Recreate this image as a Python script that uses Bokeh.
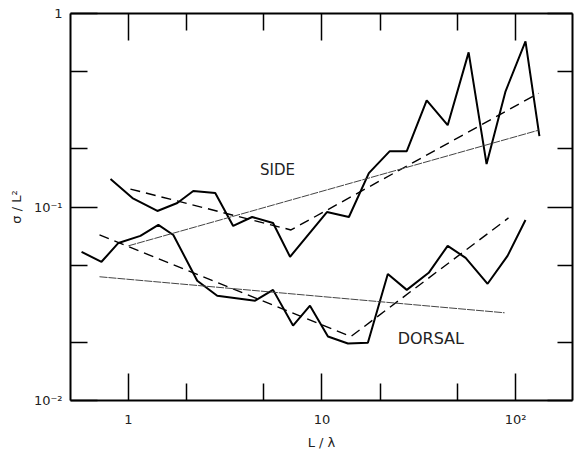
from bokeh.plotting import figure
from bokeh.models import FixedTicker, LogAxis, CustomJSTickFormatter, Label
from bokeh.embed import file_html
from bokeh.resources import INLINE

# ---- data (L/lambda, sigma/L^2) ----
side_x = [0.808, 1.049, 1.411, 1.789, 2.163, 2.809, 3.477, 4.357, 5.588, 6.841,
          10.61, 13.78, 17.47, 22.41, 27.43, 34.77, 44.62, 57.25, 70.88, 88.82, 112.6, 132.9]
side_y = [0.1394, 0.1112, 0.0954, 0.1049, 0.1209, 0.1181, 0.0798, 0.0888, 0.0827, 0.0553,
          0.0942, 0.0888, 0.1497, 0.1943, 0.1943, 0.356, 0.2647, 0.6295, 0.1666, 0.3963, 0.7174, 0.2323]

dorsal_x = [0.5726, 0.7258, 0.8882, 1.153, 1.428, 1.706, 2.268, 2.876, 4.515, 5.588, 7.088,
            8.672, 10.74, 13.62, 17.27, 21.89, 27.43, 35.60, 44.62, 55.24, 71.74, 90.95, 112.6]
dorsal_y = [0.0586, 0.0521, 0.0652, 0.0709, 0.0808, 0.0717, 0.0416, 0.0348, 0.0328, 0.0373, 0.0244,
            0.0309, 0.0214, 0.0197, 0.0199, 0.0451, 0.0373, 0.0457, 0.0630, 0.0546, 0.0401, 0.0559, 0.0857]

side_dash_x = [1.024, 6.92, 131.4]
side_dash_y = [0.1238, 0.0761, 0.3869]
dorsal_dash_x = [0.7088, 14.11, 92.0]
dorsal_dash_y = [0.0717, 0.0214, 0.0878]

side_fit_x = [1.0, 131.4]
side_fit_y = [0.0630, 0.2493]
dorsal_fit_x = [0.7088, 87.8]
dorsal_fit_y = [0.0436, 0.0284]

x_major = [1, 10, 100]
x_major_labels = ["1", "10", "10²"]
x_minor = [0.5, 2, 5, 20, 50, 200]
y_major = [0.01, 0.1, 1]
y_major_labels = ["10⁻²", "10⁻¹", "1"]
y_minor = [0.02, 0.05, 0.2, 0.5]

FONT = "DejaVu Sans"

p = figure(width=575, height=452, x_axis_type="log", y_axis_type="log",
           x_range=(0.502, 197), y_range=(0.01, 1),
           output_backend="svg", toolbar_location=None,
           min_border_left=70, min_border_right=3, min_border_top=13, min_border_bottom=51,
           background_fill_color="white", border_fill_color="white")
p.grid.visible = False
p.outline_line_color = None

fmt_code = """
for (let i = 0; i < v.length; i++) {
  if (Math.abs(Math.log10(tick) - Math.log10(v[i])) < 1e-6) return l[i];
}
return '';
"""
xfmt = CustomJSTickFormatter(args=dict(v=x_major, l=x_major_labels), code=fmt_code)
yfmt = CustomJSTickFormatter(args=dict(v=y_major, l=y_major_labels), code=fmt_code)
blank = CustomJSTickFormatter(code="return '';")

def style(ax):
    ax.axis_line_width = 2
    ax.axis_line_color = "black"
    ax.major_tick_line_width = 1.5
    ax.minor_tick_line_width = 1.5
    ax.major_tick_line_color = "black"
    ax.minor_tick_line_color = "black"
    ax.major_tick_in = 27
    ax.major_tick_out = 0
    ax.minor_tick_in = 17
    ax.minor_tick_out = 0
    ax.major_label_text_font = FONT
    ax.major_label_text_font_size = "13px"
    ax.major_label_text_color = "#222"
    ax.axis_label_text_font = FONT
    ax.axis_label_text_font_size = "13px"
    ax.axis_label_text_font_style = "normal"
    ax.axis_label_text_color = "#222"

xa = p.xaxis[0]
xa.ticker = FixedTicker(ticks=x_major, minor_ticks=x_minor)
xa.formatter = xfmt
style(xa)
xa.major_label_standoff = 11
xa.axis_label = "L / λ"
xa.axis_label_standoff = 5

ya = p.yaxis[0]
ya.ticker = FixedTicker(ticks=y_major, minor_ticks=y_minor)
ya.formatter = yfmt
style(ya)
ya.major_label_standoff = 8
ya.axis_label = "σ / L²"
ya.axis_label_standoff = 7

top = LogAxis(ticker=FixedTicker(ticks=x_major, minor_ticks=x_minor), formatter=blank)
style(top)
top.major_label_standoff = 0
p.add_layout(top, "above")
right = LogAxis(ticker=FixedTicker(ticks=y_major, minor_ticks=y_minor), formatter=blank)
style(right)
right.major_tick_in = 25
right.minor_tick_in = 15
right.major_label_standoff = 0
p.add_layout(right, "right")

# data curves
p.line(side_x, side_y, line_color="black", line_width=2)
p.line(dorsal_x, dorsal_y, line_color="black", line_width=2)
p.line(side_dash_x, side_dash_y, line_color="black", line_width=1.4, line_dash="10 6")
p.line(dorsal_dash_x, dorsal_dash_y, line_color="black", line_width=1.4, line_dash="10 6")
p.line(side_fit_x, side_fit_y, line_color="#444", line_width=1, line_dash="8 1")
p.line(dorsal_fit_x, dorsal_fit_y, line_color="#444", line_width=1, line_dash="8 1")

p.add_layout(Label(x=4.79, y=0.155, text="SIDE", text_font=FONT, text_font_size="15px",
                   text_color="#222", text_baseline="middle", text_align="left"))
p.add_layout(Label(x=24.6, y=0.0209, text="DORSAL", text_font=FONT, text_font_size="16px",
                   text_color="#222", text_baseline="middle", text_align="left"))

open("out.html", "w").write(file_html(p, INLINE))
